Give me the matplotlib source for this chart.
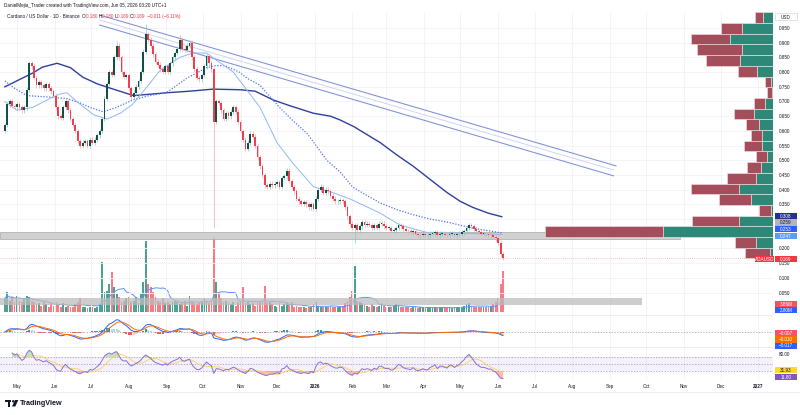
import numpy as np
import pandas as pd
import matplotlib
matplotlib.use("Agg")
import matplotlib.pyplot as plt
from matplotlib.patches import Rectangle, Circle, Polygon
import matplotlib.transforms as mtransforms

plt.rcParams['font.family'] = ['Liberation Sans', 'DejaVu Sans']

# ---------------- data ----------------
start_date = '2025-04-21'          # first bar
bar_days = 2                       # each candle = 2 days
first_open = 0.60
closes = [
    0.62, 0.69, 0.70, 0.685, 0.68, 0.69, 0.68, 0.67, 0.68, 0.74,
    0.83, 0.82, 0.78, 0.755, 0.765, 0.755, 0.745, 0.76, 0.745, 0.735,
    0.72, 0.68, 0.65, 0.645, 0.68, 0.70, 0.67, 0.64, 0.62, 0.60,
    0.565, 0.55, 0.56, 0.565, 0.55, 0.57, 0.56, 0.57, 0.585, 0.60,
    0.64, 0.71, 0.76, 0.80, 0.79, 0.85, 0.89, 0.85, 0.80, 0.785,
    0.79, 0.745, 0.715, 0.73, 0.75, 0.77, 0.80, 0.87, 0.93, 0.91,
    0.89, 0.86, 0.835, 0.825, 0.81, 0.80, 0.82, 0.80, 0.83, 0.85,
    0.865, 0.88, 0.91, 0.88, 0.875, 0.89, 0.90, 0.85, 0.81, 0.78,
    0.775, 0.79, 0.82, 0.855, 0.83, 0.81, 0.63, 0.70, 0.695, 0.67,
    0.64, 0.66, 0.65, 0.665, 0.68, 0.665, 0.63, 0.60, 0.57, 0.54,
    0.56, 0.59, 0.58, 0.55, 0.51, 0.48, 0.45, 0.415, 0.41, 0.42,
    0.415, 0.42, 0.425, 0.41, 0.44, 0.445, 0.465, 0.43, 0.41, 0.395,
    0.37, 0.36, 0.352, 0.357, 0.35, 0.34, 0.35, 0.335, 0.37, 0.40,
    0.41, 0.39, 0.40, 0.395, 0.38, 0.37, 0.36, 0.36, 0.365, 0.36,
    0.34, 0.31, 0.285, 0.27, 0.28, 0.262, 0.275, 0.29, 0.28, 0.285,
    0.28, 0.27, 0.28, 0.27, 0.285, 0.285, 0.275, 0.27, 0.27, 0.26,
    0.262, 0.27, 0.28, 0.275, 0.265, 0.26, 0.258, 0.255, 0.26, 0.25,
    0.245, 0.247, 0.25, 0.245, 0.245, 0.25, 0.252, 0.255, 0.245, 0.25,
    0.25, 0.247, 0.245, 0.25, 0.25, 0.245, 0.248, 0.25, 0.255, 0.26,
    0.27, 0.28, 0.275, 0.268, 0.26, 0.255, 0.25, 0.25, 0.248, 0.245,
    0.245, 0.24, 0.235, 0.22, 0.18, 0.169,
]
spike_lows = {86: 0.27, 144: 0.22}
spike_highs = {46: 0.905, 58: 0.965, 72: 0.925}

volume_m = [
    1.29, 1.84, 1.10, 1.47, 0.92,
    1.56, 1.10, 0.92, 1.29, 1.56, 1.47, 1.10, 0.92, 0.74,
    0.83, 0.64, 0.92, 0.74, 0.55, 0.83, 0.64, 0.92,
    0.74, 0.55, 0.83, 0.46, 0.64, 0.55, 0.46, 0.74, 0.92, 1.29,
    0.55, 0.46, 0.37, 0.55, 0.46, 0.37, 0.55, 0.74,
    4.60, 1.84, 2.02, 2.58, 3.68, 2.30, 1.66, 1.38, 0.92,
    1.10, 1.29, 1.47, 0.92, 1.10, 1.38, 0.83, 1.66,
    2.76, 6.62, 2.58, 2.39, 1.84, 1.47,
    1.10, 0.92, 1.29, 0.83, 1.01, 0.74, 0.92, 1.10,
    0.92, 0.74, 0.83, 1.10, 0.64, 1.56, 1.10, 0.83, 0.74,
    0.92, 1.10, 1.29, 0.92, 0.83, 1.10,
    6.90,
    2.76, 1.84, 1.29, 0.92, 1.10, 0.83, 0.74, 0.92, 0.64,
    0.92, 1.10, 2.39, 0.83, 0.92, 0.74, 0.83, 0.64, 1.10, 0.92,
    1.10, 2.48, 0.83, 0.92, 0.74, 0.64, 0.55, 0.83, 0.64, 0.74,
    0.83, 0.74, 0.92, 0.55, 0.64, 0.46, 0.55, 0.46, 0.37, 0.46, 0.55, 0.74,
    0.92, 0.64, 0.55, 0.46, 0.55, 0.46, 0.64, 0.55, 0.46, 0.55, 0.46, 0.64, 0.83,
    1.10, 1.38, 2.02, 4.32, 1.10, 0.92,
    0.83, 0.74, 0.64, 0.55, 0.74, 0.64, 0.55, 0.64, 0.83, 0.64, 0.55, 0.46, 0.55, 0.64,
    0.74, 0.64, 0.55, 0.46, 0.55, 0.46, 0.37, 0.46, 0.55, 0.37,
    0.46, 0.37, 0.46, 0.55, 0.46, 0.37, 0.46, 0.37, 0.46, 0.55,
    0.46, 0.37, 0.46, 0.37, 0.46, 0.55, 0.46, 0.55, 0.64, 0.74, 0.83,
    0.64, 0.55, 0.46, 0.55, 0.46, 0.55, 0.46, 0.55, 0.64, 0.74,
    0.92, 1.29, 2.58, 3.86,
]

# moving averages (day offset from start_date, price)
ma_fast_day = [0, 10, 23, 37, 45, 51, 59, 73, 84, 95, 105, 117, 128, 144, 155, 166, 171, 188, 199, 210,
               224, 237, 254, 270, 286, 309, 325, 347, 380, 409]
ma_fast_val = [0.70, 0.67, 0.68, 0.71, 0.725, 0.73, 0.70, 0.655, 0.64, 0.66, 0.69, 0.75, 0.807, 0.85, 0.865,
               0.865, 0.85, 0.80, 0.74, 0.68, 0.56, 0.49, 0.41, 0.39, 0.365, 0.32, 0.28, 0.255, 0.252, 0.247]
ma_mid_day = [0, 8, 18, 37, 51, 62, 70, 81, 92, 105, 119, 133, 150, 166, 173, 181, 193, 199, 210, 226,
              237, 249, 265, 276, 286, 298, 309, 322, 336, 350, 364, 379, 391, 409]
ma_mid_val = [0.77, 0.745, 0.72, 0.715, 0.71, 0.695, 0.68, 0.665, 0.68, 0.705, 0.72, 0.73, 0.78, 0.815, 0.822,
              0.822, 0.80, 0.78, 0.755, 0.68, 0.635, 0.59, 0.50, 0.46, 0.41, 0.38, 0.355, 0.333, 0.315, 0.30,
              0.29, 0.275, 0.265, 0.253]
ma_slow_day = [0, 23, 31, 43, 54, 64, 76, 87, 106, 120, 134, 152, 171, 194, 206, 221, 235, 254, 268, 276,
               287, 297, 309, 322, 336, 350, 364, 375, 385, 398, 409]
ma_slow_val = [0.75, 0.797, 0.817, 0.83, 0.815, 0.783, 0.76, 0.745, 0.72, 0.725, 0.73, 0.735, 0.742, 0.74,
               0.735, 0.705, 0.685, 0.66, 0.65, 0.637, 0.615, 0.59, 0.56, 0.52, 0.48, 0.435, 0.39, 0.36,
               0.34, 0.32, 0.308]

# descending channel (day offset, price)
channel_top = ([78, 503], [0.994, 0.481])
channel_mid = ([78, 501], [0.977, 0.467])
channel_bot = ([78, 501], [0.960, 0.447])

# zones drawn on the chart
zone_low, zone_high, zone_end_day = 0.233, 0.256, 556
vzone_low, vzone_high, vzone_end_day = 0.008, 0.031, 524
last_price = 0.169

# visible-range volume profile, rows bottom -> top
vp_bottom, vp_step = 0.166, 0.0364
vp_up = [3, 17, 110, 34, 2, 22, 34, 17, 12, 6, 11, 11, 14, 19, 8, 1, 2, 16, 33, 31, 43, 31, 10, 3]
vp_down = [25, 21, 118, 47, 12, 32, 48, 29, 14, 11, 18, 11, 13, 20, 11, 5, 6, 19, 34, 45, 39, 21, 8, 0]

price_ticks = [0.05, 0.10, 0.15, 0.20, 0.25, 0.30, 0.35, 0.40, 0.45, 0.50, 0.55, 0.60, 0.65, 0.70,
               0.75, 0.80, 0.85, 0.90, 0.95]
price_hidden = [0.25, 0.30]
month_starts = ['2025-05-01', '2025-06-01', '2025-07-01', '2025-08-01', '2025-09-01', '2025-10-01',
                '2025-11-01', '2025-12-01', '2026-01-01', '2026-02-01', '2026-03-01', '2026-04-01',
                '2026-05-01', '2026-06-01', '2026-07-01', '2026-08-01', '2026-09-01', '2026-10-01',
                '2026-11-01', '2026-12-01', '2027-01-01']
month_labels = ['May', 'Jun', 'Jul', 'Aug', 'Sep', 'Oct', 'Nov', 'Dec', '2026', 'Feb', 'Mar', 'Apr',
                'May', 'Jun', 'Jul', 'Aug', 'Sep', 'Oct', 'Nov', 'Dec', '2027']

header1 = 'DanielMejia_Trader created with TradingView.com, Jun 05, 2026 03:20 UTC+1'
header_title = 'Cardano / US Dollar · 1D · Binance'
header_ohlc = [('O', '0.180'), ('H', '0.180'), ('L', '0.169'), ('C', '0.169')]
header_change = '−0.011 (−6.11%)'

# right-scale value tags: (text, background, text colour)
tags_price = [('0.308', '#22318f', 'white'), ('0.259', '#b2b5be', '#131722'),
              ('0.253', '#2962ff', 'white'), ('0.247', '#5b9cf6', 'white'), ('0.169', '#f23645', 'white')]
tags_volume = [('3.86M', '#f7525f', 'white'), ('2.80M', '#2962ff', 'white')]
tags_macd = [('−0.007', '#f7525f', 'white'), ('−0.010', '#ff6d00', 'white'), ('−0.017', '#2962ff', 'white')]
tags_rsi = [('31.93', '#fdd835', '#131722'), ('11.80', '#7e57c2', 'white')]

# ---------------- derived series ----------------
n = len(closes)
xs = np.arange(n) * bar_days
c = np.array(closes)
o = np.concatenate([[first_open], c[:-1]])
up = c >= o
base = pd.Timestamp(start_date)
month_pos = [(pd.Timestamp(m) - base).days for m in month_starts]

s = pd.Series(c)
macd = s.ewm(span=6, adjust=False).mean() - s.ewm(span=13, adjust=False).mean()
signal = macd.ewm(span=4.5, adjust=False).mean()
hist = (macd - signal).values
delta = s.diff()
gain = delta.clip(lower=0).ewm(alpha=1/9, adjust=True, ignore_na=True).mean()
loss = (-delta.clip(upper=0)).ewm(alpha=1/9, adjust=True, ignore_na=True).mean()
rsi = (100 - 100 / (1 + gain / loss.replace(0, np.nan))).values
rsi[:3] = np.nan
rsi_ma = pd.Series(rsi).rolling(7, min_periods=1).mean().values
vol_ma = pd.Series(volume_m).rolling(10, min_periods=1).mean().values

# ---------------- layout ----------------
W, H = 800, 415
fig = plt.figure(figsize=(W / 100, H / 100), dpi=100)
fig.patch.set_facecolor('white')
PR = 773
XMIN, XMAX = -4.0, 632.2
TXT = '#131722'
GRID = '#f0f3fa'
FS = 3.3


def pane(top, bot, z):
    a = fig.add_axes([0, 1 - bot / H, PR / W, (bot - top) / H], zorder=z)
    a.set_xlim(XMIN, XMAX)
    a.set_facecolor('none')
    for sp in a.spines.values():
        sp.set_visible(False)
    a.set_xticks(month_pos)
    a.tick_params(axis='x', length=0, labelbottom=False)
    a.tick_params(axis='y', length=0)
    return a


axv = pane(12, 315, 1)
ax = pane(12, 315, 2)
axm = pane(315, 347, 2)
axr = pane(347, 380, 2)

for a in (ax, axm, axr):
    a.grid(True, axis='x', color=GRID, lw=0.6)
    a.set_axisbelow(True)

# ---- volume (under the price) ----
axv.set_ylim(-0.23, 27.64)
axv.set_yticks([])
vcol = np.where(up, '#2f8f80', '#f7646f')
axv.bar(xs, volume_m, width=1.5, color=vcol, alpha=0.85, linewidth=0)
axv.plot(xs, vol_ma, color='#5b8ff9', lw=0.7)

# ---- price pane ----
ax.set_ylim(-0.0262, 1.0044)
ax.set_yticks(price_ticks)
ax.yaxis.tick_right()
ax.set_yticklabels(['' if p in price_hidden else f'{p:.3f}' for p in price_ticks])
ax.tick_params(axis='y', labelsize=FS, pad=4.3, colors=TXT)
ax.grid(True, axis='y', color=GRID, lw=0.6)

ax.add_patch(Rectangle((XMIN, zone_low), zone_end_day - XMIN, zone_high - zone_low,
                       facecolor='#c9c9c9', edgecolor='#a8a8a8', lw=0.6, alpha=0.85, zorder=1))
ax.add_patch(Rectangle((XMIN, vzone_low), vzone_end_day - XMIN, vzone_high - vzone_low,
                       facecolor='#bdbdbd', edgecolor='none', alpha=0.75, zorder=1))
ax.axhline(last_price, color='#f23645', lw=0.5, ls=(0, (1, 2)), alpha=0.6, zorder=1)

# volume profile (x in axes fraction, y in price)
bt = mtransforms.blended_transform_factory(ax.transAxes, ax.transData)
vp_max = max(u + d for u, d in zip(vp_up, vp_down))
for k, (u, d) in enumerate(zip(vp_up, vp_down)):
    y0 = vp_bottom + k * vp_step
    gw = 0.295 * u / vp_max
    rw = 0.295 * d / vp_max
    ax.add_patch(Rectangle((1 - gw, y0), gw, vp_step, transform=bt, facecolor='#2e8878',
                           edgecolor='#e8f2f0', lw=0.4, zorder=2, clip_on=True))
    ax.add_patch(Rectangle((1 - gw - rw, y0), rw, vp_step, transform=bt, facecolor='#a34e5a',
                           edgecolor='#f3dfe2', lw=0.4, zorder=2, clip_on=True))

# channel
ax.plot(*channel_top, color='#7d8fd6', lw=0.75, zorder=3)
ax.plot(*channel_mid, color='#c9d0ef', lw=0.6, zorder=3)
ax.plot(*channel_bot, color='#7d8fd6', lw=0.75, zorder=3)

# moving averages
ax.plot(ma_slow_day, ma_slow_val, color='#2f3f9e', lw=1.0, zorder=4)
ax.plot(ma_mid_day, ma_mid_val, color='#4f72f0', lw=0.9, ls=(0, (1, 1.3)), zorder=4)
ax.plot(ma_fast_day, ma_fast_val, color='#90b6f7', lw=0.7, zorder=4)

# candles
WICK = 0.008
hi = np.maximum(o, c) + WICK
lo = np.minimum(o, c) - WICK
for k, v in spike_lows.items():
    lo[k] = v
for k, v in spike_highs.items():
    hi[k] = v
ax.vlines(xs[up], lo[up], hi[up], color='#86c9bb', lw=0.5, zorder=5)
ax.vlines(xs[~up], lo[~up], hi[~up], color='#f7a6ad', lw=0.5, zorder=5)
body_h = np.maximum(np.abs(c - o), 0.002)
ax.bar(xs, body_h, bottom=np.minimum(o, c), width=1.5,
       color=np.where(up, '#124f45', '#f03e4d'), linewidth=0, zorder=6)

# ---- MACD pane ----
axm.set_ylim(-0.0855, 0.097)
axm.set_yticks([])
hcol = []
for k, h in enumerate(hist):
    prev = hist[k - 1] if k > 0 else 0
    if h >= 0:
        hcol.append('#26a69a' if h >= prev else '#b2dfdb')
    else:
        hcol.append('#ff5252' if h < prev else '#ffcdd2')
axm.bar(xs, hist, width=1.5, color=hcol, linewidth=0)
axm.axhline(0, color='#9598a1', lw=0.5, ls=(0, (2, 2)))
axm.plot(xs, macd.values, color='#2962ff', lw=0.7)
axm.plot(xs, signal.values, color='#ff6d00', lw=0.7)

# ---- RSI pane ----
axr.set_ylim(4.3, 98.6)
axr.yaxis.tick_right()
axr.set_yticks([80])
axr.set_yticklabels(['80.00'])
axr.tick_params(axis='y', labelsize=FS, pad=4.3, colors=TXT)
axr.axhspan(30, 70, color='#7e57c2', alpha=0.08, lw=0)
for lvl in (70, 50, 30):
    axr.axhline(lvl, color='#9a8cc4', lw=0.5, ls=(0, (2, 2)))
ok = ~np.isnan(rsi)
axr.fill_between(xs[ok], rsi[ok], 70, where=rsi[ok] > 70, interpolate=True, color='#4caf50', alpha=0.35, lw=0)
axr.fill_between(xs[ok], rsi[ok], 30, where=rsi[ok] < 30, interpolate=True, color='#f23645', alpha=0.35, lw=0)
axr.plot(xs, rsi_ma, color='#fbd46d', lw=0.7)
axr.plot(xs, rsi, color='#8c6fd0', lw=0.7)
axr.set_xticks(month_pos)
axr.set_xticklabels(month_labels)
axr.tick_params(axis='x', labelbottom=True, labelsize=FS, pad=3.0, colors=TXT)
for lab in axr.get_xticklabels():
    if lab.get_text().isdigit():
        lab.set_fontweight('bold')

# ---- overlay (pixel coordinates) ----
ov = fig.add_axes([0, 0, 1, 1], zorder=10)
ov.set_xlim(0, W)
ov.set_ylim(H, 0)
ov.axis('off')
ov.set_facecolor('none')

for yy in (315, 347):
    ov.plot([0, PR], [yy, yy], color='#e6e8ef', lw=0.5)
ov.plot([0, W], [392, 392], color='#e6e8ef', lw=0.5)

ov.text(4, 5.5, header1, fontsize=FS, color=TXT, va='center', ha='left')
prev = ov.text(7, 16.5, header_title + '  ', fontsize=FS, color=TXT, va='center', ha='left')
for key, val in header_ohlc:
    prev = ov.annotate(key, xy=(1, 0), xycoords=prev, va='bottom', ha='left', fontsize=FS, color=TXT)
    prev = ov.annotate(val + ' ', xy=(1, 0), xycoords=prev, va='bottom', ha='left', fontsize=FS,
                       color='#f23645')
ov.annotate(' ' + header_change, xy=(1, 0), xycoords=prev, va='bottom', ha='left', fontsize=FS,
            color='#f23645')


def tag(ypx, text, bg, fg, x0=775, x1=797):
    ov.add_patch(Rectangle((x0, ypx - 3.1), x1 - x0, 6.2, facecolor=bg, edgecolor='none'))
    ov.text((x0 + x1) / 2, ypx + 0.2, text, fontsize=FS, color=fg, ha='center', va='center')


# USD box
ov.add_patch(Rectangle((775, 13.5), 22, 7, facecolor='white', edgecolor='#d1d4dc', lw=0.5))
ov.text(786, 17.2, 'USD', fontsize=FS, color=TXT, ha='center', va='center')

for ypx, (t, bg, fg) in zip([216, 222.5, 229.3, 236.2, 259], tags_price):
    tag(ypx, t, bg, fg)
tag(259, 'ADAUSD', '#f23645', 'white', x0=755, x1=774)
for ypx, (t, bg, fg) in zip([304, 310.3], tags_volume):
    tag(ypx, t, bg, fg)
for ypx, (t, bg, fg) in zip([333, 339.5, 345.6], tags_macd):
    tag(ypx, t, bg, fg)
for ypx, (t, bg, fg) in zip([370, 377], tags_rsi):
    tag(ypx, t, bg, fg)

# TradingView logo
ov.add_patch(Rectangle((5, 400), 6, 2.2, facecolor=TXT, edgecolor='none'))
ov.add_patch(Rectangle((8, 400), 2.4, 6.5, facecolor=TXT, edgecolor='none'))
ov.add_patch(Circle((13.2, 401.3), 1.2, facecolor=TXT, edgecolor='none'))
ov.add_patch(Polygon([(15.0, 400), (18.3, 400), (15.3, 406.5), (12.0, 406.5)], closed=True,
                     facecolor=TXT, edgecolor='none'))
ov.text(20, 403.3, 'TradingView', fontsize=5.2, fontweight='bold', color=TXT, ha='left', va='center')

fig.savefig('out.png', dpi=100, facecolor='white')
